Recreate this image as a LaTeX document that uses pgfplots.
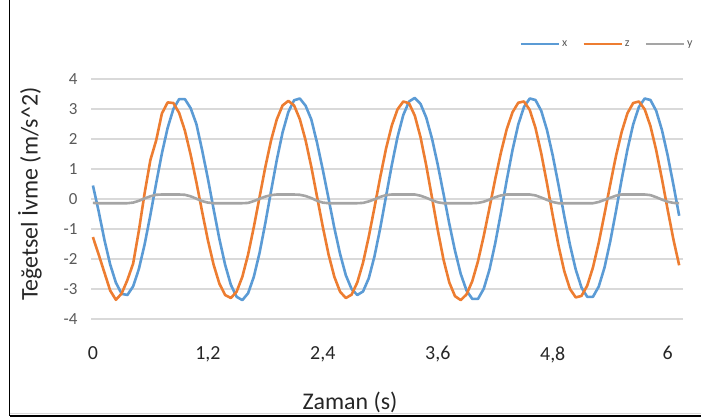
\documentclass[border=0pt]{standalone}
\usepackage{pgfplots}
\pgfplotsset{compat=1.18}
\usepackage{pgfplotstable}
\usepackage{fontspec}
\setmainfont{Carlito}
\definecolor{cx}{HTML}{5B9BD5}
\definecolor{cz}{HTML}{ED7D31}
\definecolor{cy}{HTML}{A5A5A5}
\definecolor{gridgray}{HTML}{D9D9D9}
\definecolor{labgray}{HTML}{595959}
\pgfplotstableread{
t x z y
0.00 0.45 -1.27 -0.13
0.06 -0.41 -1.85 -0.14
0.12 -1.36 -2.45 -0.14
0.18 -2.18 -3.05 -0.14
0.24 -2.79 -3.36 -0.14
0.30 -3.16 -3.15 -0.14
0.36 -3.20 -2.70 -0.14
0.42 -2.91 -2.15 -0.12
0.48 -2.33 -1.05 -0.06
0.54 -1.51 0.20 0.02
0.60 -0.53 1.30 0.09
0.66 0.52 1.95 0.14
0.72 1.52 2.85 0.15
0.78 2.37 3.22 0.15
0.84 3.00 3.20 0.15
0.90 3.33 2.87 0.15
0.96 3.33 2.28 0.14
1.02 3.03 1.48 0.09
1.08 2.50 0.56 0.01
1.14 1.63 -0.42 -0.07
1.20 0.68 -1.37 -0.12
1.26 -0.34 -2.19 -0.14
1.32 -1.33 -2.82 -0.14
1.38 -2.19 -3.20 -0.14
1.44 -2.86 -3.30 -0.14
1.50 -3.26 -3.09 -0.14
1.56 -3.37 -2.59 -0.14
1.62 -3.14 -1.85 -0.13
1.68 -2.59 -0.93 -0.07
1.74 -1.79 0.07 0.01
1.80 -0.80 1.07 0.08
1.86 0.27 1.96 0.13
1.92 1.31 2.66 0.15
1.98 2.22 3.12 0.15
2.04 2.90 3.27 0.15
2.10 3.29 3.12 0.15
2.16 3.35 2.66 0.14
2.22 3.11 1.96 0.10
2.28 2.65 1.07 0.03
2.34 1.87 0.07 -0.06
2.40 0.97 -0.93 -0.12
2.46 0.01 -1.85 -0.14
2.52 -0.96 -2.59 -0.14
2.58 -1.83 -3.09 -0.14
2.64 -2.54 -3.30 -0.14
2.70 -3.00 -3.19 -0.14
2.76 -3.20 -2.78 -0.14
2.82 -3.08 -2.12 -0.13
2.88 -2.64 -1.25 -0.08
2.94 -1.90 -0.27 -0.01
3.00 -0.96 0.74 0.07
3.06 0.09 1.68 0.13
3.12 1.13 2.45 0.15
3.18 2.07 2.99 0.15
3.24 2.80 3.25 0.15
3.30 3.25 3.19 0.15
3.36 3.37 2.78 0.15
3.42 3.17 2.06 0.11
3.48 2.71 1.11 0.04
3.54 2.01 0.04 -0.04
3.60 1.14 -1.04 -0.11
3.66 0.17 -2.02 -0.14
3.72 -0.82 -2.78 -0.14
3.78 -1.73 -3.24 -0.14
3.84 -2.50 -3.37 -0.14
3.90 -3.05 -3.18 -0.14
3.96 -3.33 -2.74 -0.14
4.02 -3.33 -2.07 -0.13
4.08 -2.99 -1.23 -0.09
4.14 -2.35 -0.29 -0.02
4.20 -1.47 0.67 0.06
4.26 -0.45 1.56 0.12
4.32 0.63 2.33 0.15
4.38 1.63 2.89 0.15
4.44 2.48 3.21 0.15
4.50 3.07 3.25 0.15
4.56 3.35 2.97 0.15
4.62 3.30 2.37 0.12
4.68 2.94 1.52 0.05
4.74 2.30 0.52 -0.03
4.80 1.45 -0.55 -0.10
4.86 0.47 -1.55 -0.14
4.92 -0.56 -2.40 -0.14
4.98 -1.53 -3.00 -0.14
5.04 -2.35 -3.28 -0.14
5.10 -2.95 -3.23 -0.14
5.16 -3.26 -2.89 -0.14
5.22 -3.26 -2.28 -0.14
5.28 -2.92 -1.46 -0.10
5.34 -2.29 -0.51 -0.03
5.40 -1.42 0.48 0.04
5.46 -0.41 1.43 0.11
5.52 0.66 2.24 0.15
5.58 1.65 2.86 0.15
5.64 2.49 3.20 0.15
5.70 3.07 3.25 0.15
5.76 3.35 2.99 0.15
5.82 3.30 2.43 0.13
5.88 2.94 1.63 0.06
5.94 2.30 0.67 -0.02
6.00 1.45 -0.36 -0.09
6.06 0.47 -1.35 -0.13
6.12 -0.56 -2.21 -0.14
}\data

\begin{document}
\begin{tikzpicture}[x=1bp,y=1bp]
\path[use as bounding box] (0,0) rectangle (701,417);
\draw[black, line width=1.5bp] (9.5,417) -- (9.5,0.8);
\draw[gridgray, line width=1bp] (9.5,4) -- (701,4);
\draw[black, line width=1.5bp] (9.5,0.8) -- (701,0.8);
\begin{axis}[
  at={(91bp,98bp)}, anchor=south west,
  width=592bp, height=240bp, scale only axis,
  xmin=-0.02, xmax=6.16, ymin=-4, ymax=4,
  axis line style={draw=none},
  ytick={-4,-3,-2,-1,0,1,2,3,4},
  yticklabels={-4,-3,-2,-1,0,1,2,3,4},
  xtick={0,1.2,2.4,3.6,4.8,6},
  xticklabels={0,{1,2},{2,4},{3,6},{4,8},6},
  ymajorgrids, grid style={draw=gridgray, line width=1.5bp},
  major tick style={draw=none},
  yticklabel style={font=\fontsize{17}{17}\selectfont, text=labgray, xshift=-10bp},
  xticklabel style={font=\fontsize{20}{20}\selectfont, text=black!85, yshift=-24bp},
  xlabel={Zaman (s)},
  ylabel={Teğetsel İvme (m/s\^{}2)},
  every axis x label/.style={at={(axis description cs:0.4375,-0.346)}, anchor=center,
    font=\fontsize{24}{24}\selectfont, text=black!85},
  every axis y label/.style={at={(axis description cs:-0.103,0.52)}, anchor=center, rotate=90,
    font=\fontsize{24}{24}\selectfont, text=black!85},
  legend columns=3,
  legend style={at={(axis description cs:1.025,1.146)}, anchor=east, draw=none, fill=none,
    font=\fontsize{12}{12}\selectfont, text=labgray,
    /tikz/every even column/.append style={column sep=13bp}},
  legend image code/.code={\draw[#1] (0bp,0bp) -- (38bp,0bp);},
  clip=false,
]
\addplot[cx, line width=2.6bp, line join=round] table[x=t, y=x] {\data};
\addlegendentry{x}
\addplot[cz, line width=2.6bp, line join=round] table[x=t, y=z] {\data};
\addlegendentry{z}
\addplot[cy, line width=2.6bp, line join=round] table[x=t, y=y] {\data};
\addlegendentry{y}
\end{axis}
\end{tikzpicture}
\end{document}
